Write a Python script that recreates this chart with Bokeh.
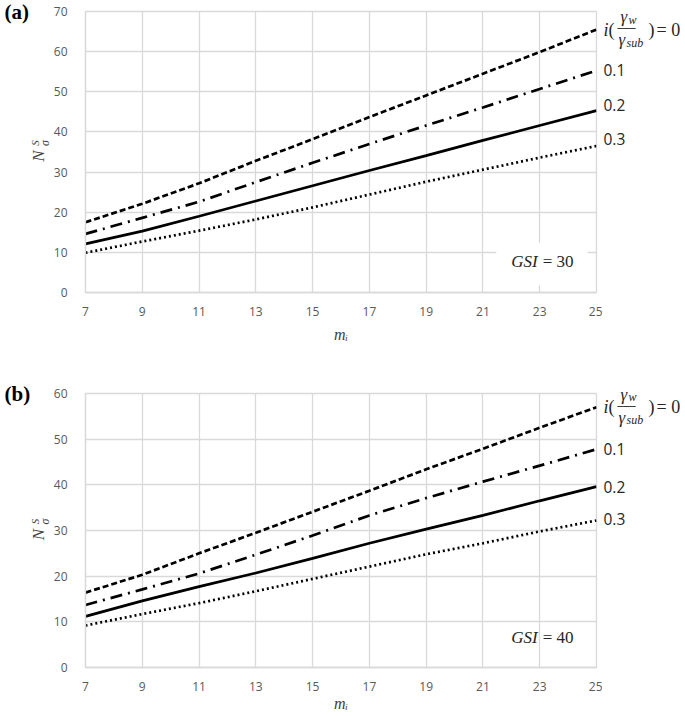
import math
from bokeh.plotting import figure
from bokeh.layouts import column, row
from bokeh.models import Label, BoxAnnotation, FixedTicker, Range1d
from bokeh.embed import file_html
from bokeh.resources import INLINE

# ---------------- data ----------------
mi = [7, 9, 11, 13, 15, 17, 19, 21, 23, 25]
x_ticks = [7, 9, 11, 13, 15, 17, 19, 21, 23, 25]
ratio_labels = ["0", "0.1", "0.2", "0.3"]

# panel (a) GSI = 30
a_i00 = [17.5, 22.1, 27.2, 32.8, 38.2, 43.7, 49.1, 54.5, 59.9, 65.5]
a_i01 = [14.6, 18.6, 22.6, 27.5, 32.3, 37.0, 41.6, 46.1, 50.7, 55.3]
a_i02 = [12.1, 15.3, 19.0, 22.8, 26.6, 30.4, 34.1, 37.9, 41.6, 45.3]
a_i03 = [9.9, 12.7, 15.4, 18.2, 21.2, 24.4, 27.6, 30.6, 33.6, 36.5]
a_yticks = [0, 10, 20, 30, 40, 50, 60, 70]

# panel (b) GSI = 40
b_i00 = [16.4, 20.3, 25.0, 29.5, 34.1, 38.7, 43.4, 47.9, 52.5, 57.0]
b_i01 = [13.7, 17.1, 20.6, 24.7, 28.9, 33.3, 37.1, 40.7, 44.2, 47.8]
b_i02 = [11.2, 14.6, 17.7, 20.7, 23.9, 27.2, 30.3, 33.3, 36.5, 39.6]
b_i03 = [9.2, 11.7, 14.1, 16.7, 19.4, 22.1, 24.8, 27.2, 29.8, 32.2]
b_yticks = [0, 10, 20, 30, 40, 50, 60]

GRID = "#d9d9d9"
TICK = "#595959"
SERIF = "Liberation Serif"
INK = "#262626"

dashes = ["6 3", "12 6 2 6", "solid", "2 3"]

LEFT_W = 50
MAIN_BL = 31
FRAME_W = 515
MAIN_BR = 6
RIGHT_W = 685 - LEFT_W - MAIN_BL - FRAME_W - MAIN_BR


def side_fig(width, height, top, bottom, ymax):
    H = height - top - bottom
    upp = ymax / H
    s = figure(width=width, height=height, x_range=Range1d(0, width),
               y_range=Range1d(-bottom * upp, ymax + top * upp),
               output_backend="svg", toolbar_location=None, title=None,
               x_axis_type=None, y_axis_type=None,
               min_border_left=0, min_border_right=0, min_border_top=0, min_border_bottom=0)
    s.outline_line_color = None
    s.grid.visible = False
    s.background_fill_color = "white"
    s.border_fill_color = "white"
    return s


def make_panel(tag, gsi_text, gsi_pos, series, yticks, height, top, bottom,
               label_dy, gsi_box, xlabel_standoff):
    ymax = yticks[-1]
    p = figure(width=MAIN_BL + FRAME_W + MAIN_BR, height=height,
               x_range=Range1d(7, 25), y_range=Range1d(0, ymax),
               output_backend="svg", toolbar_location=None, title=None,
               min_border_left=MAIN_BL, min_border_right=MAIN_BR,
               min_border_top=top, min_border_bottom=bottom)
    p.background_fill_color = "white"
    p.border_fill_color = "white"
    p.outline_line_color = GRID
    p.outline_line_width = 1.3
    for ax in (p.xaxis, p.yaxis):
        ax.axis_line_color = GRID
        ax.axis_line_width = 1.3
        ax.major_tick_line_color = None
        ax.minor_tick_line_color = None
        ax.major_label_text_font = "Open Sans"
        ax.major_label_text_font_size = "12px"
        ax.major_label_text_color = TICK
    p.xaxis.ticker = FixedTicker(ticks=x_ticks)
    p.yaxis.ticker = FixedTicker(ticks=yticks)
    p.xaxis.major_label_standoff = 8
    p.yaxis.major_label_standoff = 12
    p.xaxis.axis_label = "mᵢ"
    p.xaxis.axis_label_text_font = SERIF
    p.xaxis.axis_label_text_font_style = "italic"
    p.xaxis.axis_label_text_font_size = "16px"
    p.xaxis.axis_label_text_color = "#404040"
    p.xaxis.axis_label_standoff = xlabel_standoff
    for g in (p.xgrid, p.ygrid):
        g.grid_line_color = GRID
        g.grid_line_width = 1.3

    for ys, d in zip(series, dashes):
        p.line(mi, ys, line_color="black", line_width=2.7, line_dash=d, line_cap="butt")

    # GSI annotation
    if gsi_box:
        p.add_layout(BoxAnnotation(left=21.47, right=24.69, bottom=1.75, top=12.4,
                                   fill_color="white", fill_alpha=1.0, line_color=None))
    gx, gy = gsi_pos
    p.add_layout(Label(x=gx, y=gy, x_offset=-2, text="GSI", text_font=SERIF,
                       text_font_style="italic", text_font_size="17px",
                       text_align="right", text_baseline="middle", text_color=INK))
    p.add_layout(Label(x=gx, y=gy, x_offset=3, text=gsi_text, text_font=SERIF,
                       text_font_size="17px",
                       text_align="left", text_baseline="middle", text_color=INK))

    # ---- left side: tag + rotated y label ----
    lf = side_fig(LEFT_W, height, top, bottom, ymax)
    lf.add_layout(Label(x=4, y=ymax, y_offset=0, text=tag,
                        text_font=SERIF, text_font_style="bold", text_font_size="21px",
                        text_align="left", text_baseline="middle", text_color="black"))
    ymid = ymax / 2
    lf.add_layout(Label(x=38, y=ymid, y_offset=-4, text="N", angle=math.pi / 2,
                        text_font=SERIF, text_font_style="italic", text_font_size="17px",
                        text_align="center", text_baseline="middle", text_color="#404040"))
    lf.add_layout(Label(x=34, y=ymid, y_offset=9, text="S", angle=math.pi / 2,
                        text_font=SERIF, text_font_style="italic", text_font_size="11px",
                        text_align="center", text_baseline="middle", text_color="#404040"))
    lf.add_layout(Label(x=44, y=ymid, y_offset=9, text="σ", angle=math.pi / 2,
                        text_font=SERIF, text_font_style="italic", text_font_size="12px",
                        text_align="center", text_baseline="middle", text_color="#404040"))

    # ---- right side: ratio labels ----
    rf = side_fig(RIGHT_W, height, top, bottom, ymax)
    first_end = series[0][-1]
    base = dict(y=first_end, text_font=SERIF, text_baseline="middle",
                text_align="left", text_color=INK)
    rf.add_layout(Label(x=1, text="i", text_font_style="italic", text_font_size="18px", **base))
    rf.add_layout(Label(x=6, text="(", text_font_size="18px", **base))
    rf.add_layout(Label(x=18, y_offset=13, text="γ", text_font_style="italic",
                        text_font_size="17px", **base))
    rf.add_layout(Label(x=26, y_offset=10, text="w", text_font_style="italic",
                        text_font_size="12px", **base))
    rf.add_layout(Label(x=15, y_offset=1, text="───", text_font_size="10px",
                        **{**base, "text_font": "DejaVu Sans Mono"}))
    rf.add_layout(Label(x=16, y_offset=-10, text="γ", text_font_style="italic",
                        text_font_size="17px", **base))
    rf.add_layout(Label(x=24, y_offset=-13, text="sub", text_font_style="italic",
                        text_font_size="12px", **base))
    rf.add_layout(Label(x=46, text=")", text_font_size="18px", **base))
    rf.add_layout(Label(x=54, text="= " + ratio_labels[0], text_font_size="18px", **base))
    for ys, lab, dy in zip(series[1:], ratio_labels[1:], label_dy):
        rf.add_layout(Label(x=1, y=ys[-1], y_offset=dy, text=lab,
                            text_font="Open Sans", text_font_size="15.5px",
                            text_align="left", text_baseline="middle", text_color=INK))

    return row(column(lf), p, column(rf), spacing=0)


pa = make_panel("(a)", "= 30", (23.0, 7.7), [a_i00, a_i01, a_i02, a_i03], a_yticks,
                height=355, top=11, bottom=63, label_dy=[1, 6, 7], gsi_box=True,
                xlabel_standoff=7)
pb = make_panel("(b)", "= 40", (23.0, 6.6), [b_i00, b_i01, b_i02, b_i03], b_yticks,
                height=359, top=38, bottom=47, label_dy=[0, 0, 1], gsi_box=False,
                xlabel_standoff=1)

layout = column(pa, pb, spacing=0)
open("out.html", "w").write(file_html(layout, INLINE))
